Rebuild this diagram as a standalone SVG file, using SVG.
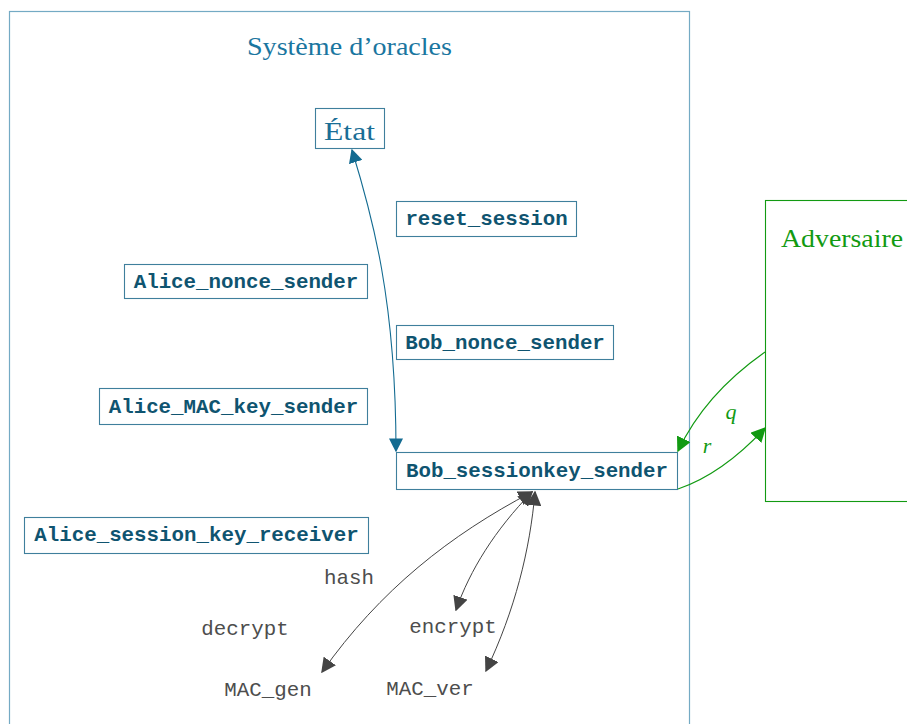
<svg xmlns="http://www.w3.org/2000/svg" width="907" height="724" viewBox="0 0 907 724">
<style>
.frame{fill:none;stroke:#74aac4;stroke-width:1.2}
.node rect{fill:#fff;stroke:#3f7f9c;stroke-width:1.1}
.node text{font-family:"Liberation Mono","DejaVu Sans Mono",monospace;font-size:20.8px;font-weight:bold;fill:#0f5470}
.serif{font-family:"Liberation Serif","DejaVu Serif",serif}
.oracle{font-family:"Liberation Mono","DejaVu Sans Mono",monospace;font-size:20.8px;fill:#4d4d4d}
.blue{fill:none;stroke:#136b91;stroke-width:1.1}
.gray{fill:none;stroke:#444;stroke-width:1}
.green{fill:none;stroke:#129a12;stroke-width:1.1}
</style>
<defs>
<marker id="ab" viewBox="0 0 10 10" refX="9" refY="5" markerWidth="14" markerHeight="14" markerUnits="userSpaceOnUse" orient="auto-start-reverse"><path d="M0,0 L10,5 L0,10 z" fill="#136b91"/></marker>
<marker id="ag" viewBox="0 0 10 10" refX="9" refY="5" markerWidth="15" markerHeight="15" markerUnits="userSpaceOnUse" orient="auto-start-reverse"><path d="M0,0 L10,5 L0,10 z" fill="#444"/></marker>
<marker id="agr" viewBox="0 0 10 10" refX="9" refY="5" markerWidth="15" markerHeight="15" markerUnits="userSpaceOnUse" orient="auto-start-reverse"><path d="M0,0 L10,5 L0,10 z" fill="#129a12"/></marker>
</defs>
<rect width="907" height="724" fill="#fff"/>
<g id="systeme">
<rect class="frame" x="9.5" y="11.5" width="680" height="730"/>
<text class="serif" x="247" y="55" font-size="25" fill="#1a76a0" textLength="205" lengthAdjust="spacingAndGlyphs">Système d’oracles</text>
</g>
<g id="adversaire">
<rect x="765.5" y="200.5" width="160" height="301" fill="none" stroke="#129a12" stroke-width="1.1"/>
<text class="serif" x="781" y="247" font-size="25" fill="#129a12" textLength="122" lengthAdjust="spacingAndGlyphs">Adversaire</text>
</g>
<g id="etat">
<rect x="315.5" y="108.5" width="69" height="40" fill="#fff" stroke="#3f7f9c" stroke-width="1.1"/>
<text class="serif" x="324" y="140" font-size="25" fill="#1a6e96" textLength="51" lengthAdjust="spacingAndGlyphs">État</text>
</g>
<g id="reset_session" class="node"><rect x="396.5" y="201.5" width="180" height="35"/><text x="486.5" y="225" text-anchor="middle">reset_session</text></g>
<g id="alice_nonce_sender" class="node"><rect x="124.5" y="264.5" width="243" height="34"/><text x="246" y="287.5" text-anchor="middle">Alice_nonce_sender</text></g>
<g id="bob_nonce_sender" class="node"><rect x="396.5" y="325.5" width="217" height="34"/><text x="505" y="348.5" text-anchor="middle">Bob_nonce_sender</text></g>
<g id="alice_mac_key_sender" class="node"><rect x="99.5" y="388.5" width="268" height="36"/><text x="233.5" y="412.5" text-anchor="middle">Alice_MAC_key_sender</text></g>
<g id="bob_sessionkey_sender" class="node"><rect x="396.5" y="452.5" width="281" height="37"/><text x="537" y="476.5" text-anchor="middle">Bob_sessionkey_sender</text></g>
<g id="alice_session_key_receiver" class="node"><rect x="24.5" y="517.5" width="344" height="36"/><text x="196.5" y="541" text-anchor="middle">Alice_session_key_receiver</text></g>
<g id="oracles">
<text class="oracle" x="349" y="584" text-anchor="middle">hash</text>
<text class="oracle" x="245" y="635" text-anchor="middle">decrypt</text>
<text class="oracle" x="453" y="633" text-anchor="middle">encrypt</text>
<text class="oracle" x="268" y="696" text-anchor="middle">MAC_gen</text>
<text class="oracle" x="430" y="695" text-anchor="middle">MAC_ver</text>
</g>
<g id="connectors">
<path class="blue" d="M352,150 C372,215 396,300 396,451" marker-start="url(#ab)" marker-end="url(#ab)"/>
<path class="gray" d="M532,492 C450,535 380,590 322,672" marker-start="url(#ag)" marker-end="url(#ag)"/>
<path class="gray" d="M532,492 C495,530 470,570 456,610" marker-start="url(#ag)" marker-end="url(#ag)"/>
<path class="gray" d="M535,492 C530,550 515,610 486,671" marker-start="url(#ag)" marker-end="url(#ag)"/>
<path class="green" d="M765,352 C725,380 695,415 678,451" marker-end="url(#agr)"/>
<path class="green" d="M678,489 C710,478 740,455 765,428" marker-end="url(#agr)"/>
<text class="serif" x="731" y="419" font-size="22" font-style="italic" fill="#129a12" text-anchor="middle">q</text>
<text class="serif" x="707" y="453" font-size="22" font-style="italic" fill="#129a12" text-anchor="middle">r</text>
</g>
</svg>
